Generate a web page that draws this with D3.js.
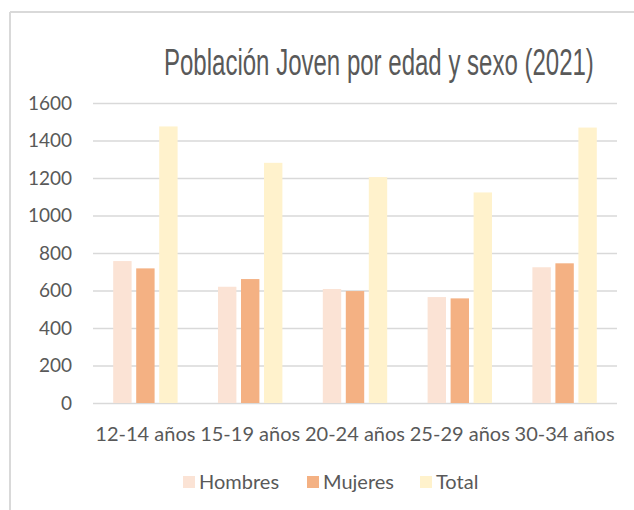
<!DOCTYPE html>
<html>
<head>
<meta charset="utf-8">
<script src="https://cdn.jsdelivr.net/npm/d3@7"></script>
<style>
  body { margin: 0; background: #fff; }
  text { font-family: Lato, "Open Sans", sans-serif; fill: #595959; }
</style>
</head>
<body>
<svg id="chart" width="634" height="510"></svg>
<script>
let categories = ["12-14 años", "15-19 años", "20-24 años", "25-29 años", "30-34 años"];
let seriesNames = ["Hombres", "Mujeres", "Total"];
let hombres = [757, 620, 608, 565, 724];
let mujeres = [718, 661, 597, 558, 745];
let total = [1475, 1281, 1205, 1123, 1469];
let yTicks = [0, 200, 400, 600, 800, 1000, 1200, 1400, 1600];
let colors = ["#fbe3d5", "#f4b183", "#fff2cc"];

function init() {
    const svg = d3.select("#chart");
    const margin = {left: 93, right: 17, top: 103, bottom: 107};
    const width = 634 - margin.left - margin.right;
    const height = 510 - margin.top - margin.bottom;

    // frame
    svg.append("line").attr("x1", 10).attr("x2", 634).attr("y1", 12).attr("y2", 12)
        .attr("stroke", "#d9d9d9").attr("stroke-width", 2);
    svg.append("line").attr("x1", 10).attr("x2", 10).attr("y1", 12).attr("y2", 510)
        .attr("stroke", "#d9d9d9").attr("stroke-width", 2);

    const data = categories.map((c, i) => ({cat: c, values: [hombres[i], mujeres[i], total[i]]}));

    const x0 = d3.scaleBand().domain(categories).range([0, width]).padding(0);
    const x1 = d3.scaleBand().domain(seriesNames).range([-32.2, 32.2]).paddingInner(0.2);
    const y = d3.scaleLinear().domain([0, 1600]).range([height, 0]);

    const g = svg.append("g").attr("transform", "translate(" + margin.left + "," + margin.top + ")");

    // gridlines
    g.append("g")
        .call(d3.axisLeft(y).tickValues(yTicks).tickSize(-width).tickFormat(""))
        .call(a => a.select(".domain").remove())
        .selectAll("line").attr("stroke", "#d9d9d9").attr("stroke-width", 1.5);

    // y labels
    g.append("g")
        .attr("transform", "translate(-21,0)")
        .call(d3.axisLeft(y).tickValues(yTicks).tickSize(0).tickPadding(0).tickFormat(d3.format("d")))
        .call(a => a.select(".domain").remove())
        .selectAll("text").style("font-size", "19px").attr("fill", "#595959")
        .attr("font-family", "Lato");

    // bars
    const groups = g.selectAll(".grp")
        .data(data)
        .enter()
        .append("g")
        .attr("transform", d => "translate(" + (x0(d.cat) + x0.bandwidth() / 2) + ",0)");

    groups.selectAll("rect")
        .data(d => d.values.map((v, i) => ({k: seriesNames[i], v: v, i: i})))
        .enter()
        .append("rect")
        .attr("x", d => x1(d.k))
        .attr("width", x1.bandwidth())
        .attr("y", d => y(d.v))
        .attr("height", d => height - y(d.v))
        .attr("fill", d => colors[d.i]);

    // x labels
    g.append("g")
        .attr("transform", "translate(0," + height + ")")
        .call(d3.axisBottom(x0).tickSize(0).tickPadding(24))
        .call(a => a.select(".domain").remove())
        .selectAll("text").style("font-size", "20px").attr("fill", "#595959")
        .attr("font-family", "Lato");

    // title, narrow font squeezed horizontally to the reference width
    const title = svg.append("text")
        .attr("x", 0)
        .attr("y", 0)
        .style("font-family", "'Liberation Sans Narrow', sans-serif")
        .style("font-size", "36px")
        .text("Población Joven por edad y sexo (2021)");
    const natural = title.node().getComputedTextLength();
    title.attr("transform", "translate(164,75) scale(" + (430 / natural) + ",1)");

    // legend
    const legendX = [183, 307, 420];
    const leg = svg.append("g").attr("transform", "translate(0,482)");
    seriesNames.forEach((s, i) => {
        leg.append("rect").attr("x", legendX[i]).attr("y", -6).attr("width", 12).attr("height", 12)
            .attr("fill", colors[i]);
        leg.append("text").attr("x", legendX[i] + 16).attr("y", 7)
            .style("font-size", "20px").text(s);
    });
}

window.onload = function () {
    init();
};
</script>
</body>
</html>
